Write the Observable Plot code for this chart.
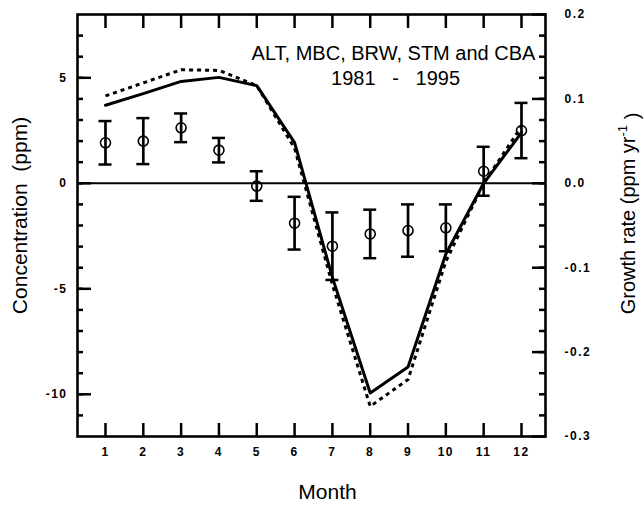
<!DOCTYPE html>
<html><head><meta charset="utf-8">
<style>body{margin:0;background:#fff;} svg{display:block;}</style>
<script src="https://cdn.jsdelivr.net/npm/d3@7"></script>
<script src="https://cdn.jsdelivr.net/npm/@observablehq/plot@0.6"></script>
</head><body><div id="chart"></div>
<script>
// Data
const months = [1,2,3,4,5,6,7,8,9,10,11,12];
const obsMean = [1.92, 2.0, 2.63, 1.57, -0.13, -1.89, -2.98, -2.4, -2.24, -2.11, 0.57, 2.5];
const obsErr  = [1.03, 1.09, 0.68, 0.58, 0.70, 1.25, 1.60, 1.15, 1.24, 1.11, 1.16, 1.31];
const modelSolid  = [3.70, 4.25, 4.83, 5.02, 4.63, 1.93, -4.46, -9.94, -8.71, -3.35, 0.0, 2.40];
const modelDashed = [4.14, 4.76, 5.38, 5.35, 4.63, 1.66, -4.80, -10.57, -9.30, -3.70, 0.0, 2.70];
const leftMajor = [-10, -5, 0, 5];
const minorTicks = [-11,-10,-9,-8,-7,-6,-5,-4,-3,-2,-1,0,1,2,3,4,5,6,7];
const rightMajor = [-12, -8, -4, 0, 4, 8];   // ppm per 40 -> growth-rate ticks
const growthScale = 40;                      // concentration units per (ppm/yr)
const title1 = "ALT, MBC, BRW, STM and CBA";
const title2 = "1981\u00a0\u00a0\u00a0-\u00a0\u00a0\u00a01995";

const rows = months.map((m, i) => ({
  month: m, obs: obsMean[i], lo: obsMean[i] - obsErr[i], hi: obsMean[i] + obsErr[i],
  solid: modelSolid[i], dashed: modelDashed[i]
}));

const pxPerMonth = 468 / 12.375;
const cap = 6.5 / pxPerMonth;
const font = "'Liberation Sans', Arial, Helvetica, sans-serif";

const plot = Plot.plot({
  width: 643, height: 511,
  marginLeft: 77, marginRight: 98, marginTop: 14, marginBottom: 75,
  style: {fontFamily: font, background: "white", color: "black", overflow: "visible"},
  x: {domain: [0.26, 12.635]},
  y: {domain: [-12, 8]},
  marks: [
    Plot.ruleY([0], {stroke: "black", strokeWidth: 2}),
    Plot.line(rows, {x: "month", y: "dashed", stroke: "black", strokeWidth: 3, strokeDasharray: "4,4", strokeLinecap: "butt"}),
    Plot.line(rows, {x: "month", y: "solid", stroke: "black", strokeWidth: 3}),
    Plot.ruleX(rows, {x: "month", y1: "lo", y2: "hi", stroke: "black", strokeWidth: 2.7}),
    Plot.ruleY(rows, {y: "lo", x1: d => d.month - cap, x2: d => d.month + cap, stroke: "black", strokeWidth: 2.5}),
    Plot.ruleY(rows, {y: "hi", x1: d => d.month - cap, x2: d => d.month + cap, stroke: "black", strokeWidth: 2.5}),
    Plot.dot(rows, {x: "month", y: "obs", r: 5, stroke: "black", strokeWidth: 1.6, fill: "none"}),
    Plot.frame({stroke: "black", strokeWidth: 2.6}),
    // left axis
    Plot.axisY({anchor: "left", ticks: minorTicks, tickSize: -6, fill: "none", label: null, strokeWidth: 2.5}),
    Plot.axisY({anchor: "left", ticks: leftMajor, tickSize: -14, fill: "none", label: null, strokeWidth: 2.5}),
    Plot.axisY({anchor: "left", ticks: leftMajor, tickSize: 0, tickPadding: 10, label: null,
      fontSize: 12, fontWeight: "bold", tickFormat: d => d}),
    // right axis
    Plot.axisY({anchor: "right", ticks: minorTicks, tickSize: -7, fill: "none", label: null, strokeWidth: 2.5}),
    Plot.axisY({anchor: "right", ticks: rightMajor, tickSize: -14, fill: "none", label: null, strokeWidth: 2.5}),
    Plot.axisY({anchor: "right", ticks: rightMajor, tickSize: 0, tickPadding: 19, label: null,
      fontSize: 12, fontWeight: "bold", tickFormat: d => (d / growthScale).toFixed(1)}),
    // bottom & top axes
    Plot.axisX({anchor: "bottom", ticks: months, tickSize: -13, fill: "none", label: null, strokeWidth: 2.5}),
    Plot.axisX({anchor: "top", ticks: months, tickSize: -13, fill: "none", label: null, strokeWidth: 2.5}),
    Plot.axisX({anchor: "bottom", ticks: months, tickSize: 0, tickPadding: 11, label: null,
      fontSize: 12, fontWeight: "bold", tickFormat: d => d}),
    // titles
    Plot.text([title1], {frameAnchor: "top", dx: 82, dy: 31, fontSize: 20, fill: "black"}),
    Plot.text([title2], {frameAnchor: "top", dx: 84, dy: 56, fontSize: 20, fill: "black"}),
    Plot.text(["Month"], {frameAnchor: "bottom", dx: 16, dy: 62, fontSize: 21, fill: "black"}),
    Plot.text(["Concentration\u00a0\u00a0(ppm)"], {frameAnchor: "left", textAnchor: "middle", dx: -57, dy: -10, rotate: -90, fontSize: 21, fill: "black"}),
    Plot.text(["Growth rate (ppm yr-1 )"], {frameAnchor: "right", textAnchor: "middle", dx: 83, dy: -12, rotate: -90, fontSize: 20, fill: "black"})
  ]
});

const svg = d3.select(plot);
svg.selectAll("text").each(function() {
  const t = d3.select(this);
  if (t.text() === "Growth rate (ppm yr-1 )") {
    t.text("Growth rate (ppm yr");
    t.append("tspan").attr("dy", "-0.6em").attr("font-size", "13px").text("-1");
    t.append("tspan").attr("dy", "0.6em").text("\u00a0)");
  }
});
svg.selectAll("[aria-label$='tick label'] text").attr("letter-spacing", "1.5px");
document.getElementById("chart").appendChild(plot);
</script>
</body></html>
